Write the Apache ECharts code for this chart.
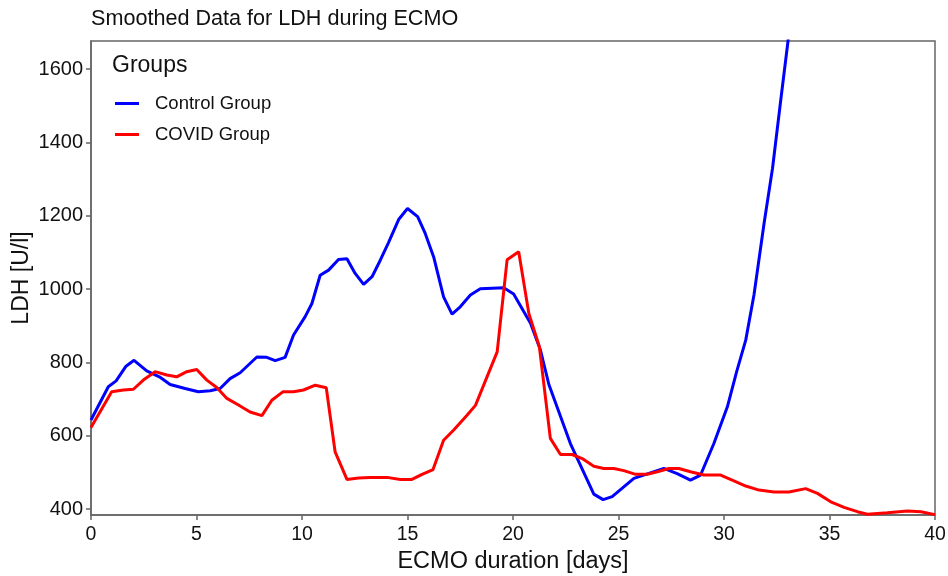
<!DOCTYPE html>
<html>
<head>
<meta charset="utf-8">
<script src="https://cdn.jsdelivr.net/npm/echarts@6/dist/echarts.min.js"></script>
<style>
html,body{margin:0;padding:0;background:#fff;}
#chart{width:948px;height:576px;}
</style>
</head>
<body>
<div id="chart"></div>
<script>
var controlDays = [0, 0.82, 1.19, 1.66, 2.04, 2.64, 3.24, 3.75, 4.46, 5.09, 5.65, 6.12, 6.59, 7.07, 7.86, 8.33, 8.73, 9.2, 9.6, 10.15, 10.47, 10.86, 11.26, 11.73, 12.13, 12.52, 12.92, 13.32, 13.71, 14.1, 14.58, 15.0, 15.48, 15.84, 16.24, 16.71, 17.11, 17.5, 17.98, 18.45, 19.56, 20.03, 20.83, 21.3, 21.7, 22.72, 23.83, 24.27, 24.7, 25.73, 27.15, 27.78, 28.41, 28.89, 29.52, 30.16, 30.6, 31.03, 31.42, 31.9, 32.3, 32.69, 33.03, 33.4];
var controlLDH = [643, 734, 750, 790, 806, 777, 761, 740, 729, 720, 723, 729, 756, 772, 815, 814, 805, 814, 875, 925, 961, 1038, 1052, 1081, 1083, 1043, 1013, 1034, 1079, 1127, 1190, 1220, 1198, 1152, 1088, 979, 932, 952, 984, 1001, 1004, 987, 907, 834, 740, 579, 441, 426, 434, 484, 511, 497, 479, 493, 579, 679, 775, 861, 984, 1180, 1330, 1516, 1675, 1860];
var covidDays = [0, 0.98, 1.53, 2.01, 2.48, 3.04, 3.59, 4.06, 4.54, 5.01, 5.49, 5.96, 6.44, 6.99, 7.54, 8.1, 8.57, 9.09, 9.6, 10.07, 10.63, 11.15, 11.57, 12.13, 12.68, 13.23, 14.1, 14.66, 15.21, 15.69, 16.21, 16.71, 17.19, 17.82, 18.22, 19.25, 19.72, 20.27, 20.75, 21.25, 21.77, 22.25, 22.8, 23.28, 23.83, 24.3, 24.78, 25.25, 25.81, 26.36, 26.84, 27.39, 27.86, 28.41, 29.05, 29.84, 30.47, 31.03, 31.66, 32.37, 33.08, 33.87, 34.43, 35.06, 35.69, 36.32, 36.8, 37.74, 38.7, 39.33, 40];
var covidLDH = [623, 720, 725, 727, 752, 775, 766, 761, 775, 781, 752, 732, 702, 684, 665, 655, 697, 720, 720, 725, 738, 731, 556, 481, 485, 486, 486, 481, 481, 495, 508, 588, 616, 656, 683, 829, 1080, 1102, 934, 843, 593, 549, 549, 538, 517, 511, 511, 505, 495, 495, 502, 511, 511, 502, 493, 493, 477, 463, 452, 447, 447, 456, 443, 420, 405, 393, 386, 390, 395, 393, 385];
var yTicks = [400, 600, 800, 1000, 1200, 1400, 1600];
var seriesNames = ['Control Group', 'COVID Group'];

function pairs(xs, ys) { return xs.map(function (x, i) { return [x, ys[i]]; }); }

var chart = echarts.init(document.getElementById('chart'));
var font = 'Liberation Sans, Arial, sans-serif';
var axisGray = '#666';
chart.setOption({
  animation: false,
  backgroundColor: '#fff',
  title: {
    text: 'Smoothed Data for LDH during ECMO',
    left: 86, top: 3,
    textStyle: { fontFamily: font, fontSize: 21.6, fontWeight: 'normal', color: '#111' }
  },
  graphic: [{
    type: 'text', left: 112, top: 54,
    style: { text: 'Groups', fontFamily: font, fontSize: 23, fill: '#111' }
  }],
  legend: {
    orient: 'vertical', left: 110, top: 89,
    itemWidth: 24, itemHeight: 3, itemGap: 12,
    icon: 'rect',
    data: seriesNames,
    textStyle: { fontFamily: font, fontSize: 18.5, color: '#111', padding: [0, 0, 0, 11] }
  },
  grid: {
    left: 91, right: 13, top: 41, bottom: 61,
    outerBoundsMode: 'none', containLabel: false,
    show: true, borderColor: axisGray, borderWidth: 1.5, backgroundColor: 'transparent'
  },
  xAxis: {
    type: 'value', min: 0, max: 40, interval: 5,
    name: 'ECMO duration [days]', nameLocation: 'middle', nameGap: 33,
    nameTextStyle: { fontFamily: font, fontSize: 23.5, color: '#111' },
    axisLine: { show: true, lineStyle: { color: axisGray, width: 1.5 } },
    axisTick: { show: true, length: 5, lineStyle: { color: axisGray, width: 1.5 } },
    axisLabel: { fontFamily: font, fontSize: 19.5, color: '#111', margin: 10 },
    splitLine: { show: false }
  },
  yAxis: {
    type: 'value', min: 384, max: 1677,
    name: 'LDH [U/l]', nameLocation: 'middle', nameGap: 58, nameMoveOverlap: false,
    nameTextStyle: { fontFamily: font, fontSize: 23, color: '#111' },
    axisLine: { show: true, lineStyle: { color: axisGray, width: 1.5 } },
    axisTick: { show: true, length: 5, customValues: yTicks, lineStyle: { color: axisGray, width: 1.5 } },
    axisLabel: {
      fontFamily: font, fontSize: 20, color: '#111', margin: 8, customValues: yTicks,
      formatter: function (v) { return String(v); }
    },
    splitLine: { show: false }
  },
  series: [{
    name: seriesNames[0], type: 'line', data: pairs(controlDays, controlLDH),
    showSymbol: false, clip: true, color: '#0000ff',
    lineStyle: { width: 3, color: '#0000ff' }
  }, {
    name: seriesNames[1], type: 'line', data: pairs(covidDays, covidLDH),
    showSymbol: false, clip: true, color: '#ff0000',
    lineStyle: { width: 3, color: '#ff0000' }
  }]
});
</script>
</body>
</html>
